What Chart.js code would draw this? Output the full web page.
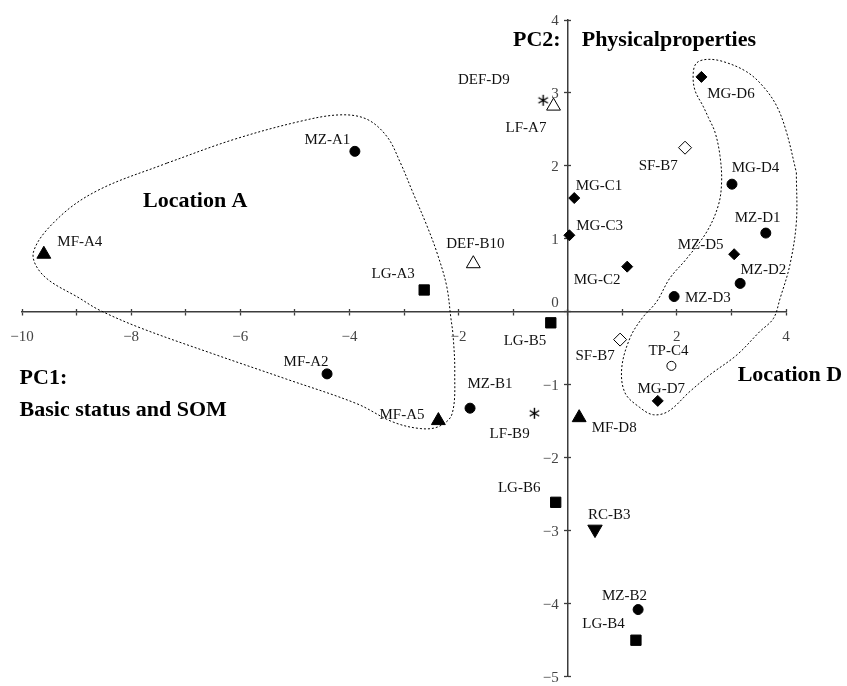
<!DOCTYPE html>
<html>
<head>
<meta charset="utf-8">
<script src="https://cdn.jsdelivr.net/npm/chart.js@4/dist/chart.umd.min.js"></script>
<style>
  html, body { margin: 0; padding: 0; background: #ffffff; }
  canvas { display: block; }
</style>
</head>
<body>
<canvas id="pca" width="847" height="686"></canvas>
<script>
// PCA score plot: PC1 (basic status and SOM) vs PC2 (physical properties)
const sampleNames = [
  'MZ-A1', 'MF-A4', 'LG-A3', 'DEF-B10', 'MF-A2', 'MF-A5', 'MZ-B1', 'LF-B9',
  'LG-B5', 'DEF-D9', 'LF-A7', 'SF-B7', 'MG-C1', 'MG-C3', 'MG-C2', 'MG-D4',
  'MZ-D1', 'MZ-D5', 'MZ-D2', 'MZ-D3', 'MG-D6', 'SF-B7', 'TP-C4', 'MG-D7',
  'MF-D8', 'LG-B6', 'RC-B3', 'MZ-B2', 'LG-B4'
];
const pc1Scores = [
  -3.90, -9.60, -2.63, -1.73, -4.41, -2.37, -1.79, -0.61,
  -0.31, -0.45, -0.26, 2.15, 0.12, 0.03, 1.09, 3.01,
  3.63, 3.05, 3.16, 1.95, 2.45, 0.96, 1.90, 1.65,
  0.21, -0.22, 0.50, 1.29, 1.25
];
const pc2Scores = [
  2.20, 0.79, 0.30, 0.66, -0.85, -1.49, -1.32, -1.39,
  -0.15, 2.90, 2.82, 2.25, 1.56, 1.05, 0.62, 1.75,
  1.08, 0.79, 0.39, 0.21, 3.22, -0.38, -0.74, -1.22,
  -1.45, -2.61, -2.98, -4.08, -4.50
];
// marker kind of each sample (land-use type)
const sampleGroups = [
  'dot', 'tri', 'square', 'triOpen', 'dot', 'tri', 'dot', 'asterisk',
  'square', 'asterisk', 'triOpen', 'diamondOpen', 'diamond', 'diamond', 'diamond', 'dot',
  'dot', 'diamond', 'dot', 'dot', 'diamond', 'diamondOpen', 'ring', 'diamond',
  'tri', 'square', 'triDown', 'dot', 'square'
];

// closed outlines around the Location A and Location D samples
// (each list starts on a straight stretch so the seam stays smooth)
const locationAX = [-7.34, -6.13, -4.91, -4.17, -3.68, -3.31, -3.07, -2.84, -2.58, -2.40, -2.22,
  -2.14, -2.10, -2.07, -2.12, -2.36, -2.69, -3.20, -3.86, -5.16, -6.48, -7.83, -8.57, -8.93, -9.61,
  -9.79, -9.30, -8.57];
const locationAY = [2.04, 2.36, 2.61, 2.70, 2.64, 2.40, 2.05, 1.64, 1.18, 0.82, 0.36,
  -0.09, -0.33, -0.82, -1.40, -1.57, -1.60, -1.51, -1.26, -0.92, -0.58, -0.22, 0.02, 0.18, 0.50,
  0.82, 1.31, 1.68];
const locationDX = [4.19, 4.19, 4.07, 3.89, 3.77, 3.52, 3.10, 2.61, 2.24, 1.85,
  1.57, 1.32, 1.05, 0.99, 1.14, 1.36, 1.63, 1.87, 2.18, 2.55, 2.76, 2.82, 2.79, 2.70, 2.58, 2.48, 2.33, 2.30, 2.36,
  2.55, 2.85, 3.28, 3.58, 3.83, 4.01];
const locationDY = [1.91, 1.23, 0.64, 0.18, -0.09, -0.27, -0.59, -0.86, -1.09, -1.36,
  -1.41, -1.31, -1.11, -0.77, -0.36, -0.09, 0.14, 0.46, 0.73, 1.10, 1.46, 1.78, 2.14, 2.46, 2.66, 2.82, 3.04, 3.27, 3.41,
  3.46, 3.43, 3.29, 3.09, 2.82, 2.46];

// axis ranges and labelled ticks
const xRange = [-10, 4];
const yRange = [-5, 4];
const xLabelledTicks = [-10, -8, -6, -4, -2, 2, 4];
const yLabelledTicks = [-5, -4, -3, -2, -1, 0, 1, 2, 3, 4];

// where each sample name sits relative to its marker (px)
const labelOffsets = [
  [-27.5, -12.7], [36, -13.6], [-31, -16.7], [2, -21], [-21, -13], [-36.4, -6.6], [20, -25.4], [-24.8, 19.6],
  [-25.9, 17.4], [-59.3, -21], [-27.5, 20.4], [-26.8, 17.7], [24.7, -13.3], [30.2, -10.7], [-30.1, 12.4], [23.5, -17.3],
  [-8.2, -15.7], [-33.5, -10.7], [23.2, -14], [33.8, 0], [29.5, 15.8], [-25, 15.6], [-3, -16], [3.5, -12.7],
  [35, 9.3], [-36.5, -15], [14.2, -15.3], [-13.6, -15], [-32.4, -17.3]
];

const SERIF = '"Liberation Serif", "Times New Roman", serif';
const fmt = v => (v < 0 ? '\u2212' + Math.abs(v) : String(v));

function asteriskSprite(size) {
  const c = document.createElement('canvas');
  c.width = size; c.height = size;
  const g = c.getContext('2d');
  g.strokeStyle = '#000';
  g.lineWidth = 1.4;
  const m = size / 2, r = size / 2 - 1;
  g.beginPath();
  for (let k = 0; k < 3; k++) {
    const a = Math.PI / 2 + k * Math.PI / 3;
    g.moveTo(m + r * Math.cos(a), m + r * Math.sin(a));
    g.lineTo(m - r * Math.cos(a), m - r * Math.sin(a));
  }
  g.stroke();
  return c;
}

const markerKinds = {
  dot:         { style: 'circle',   radius: 5,   fill: '#000' },
  tri:         { style: 'triangle', radius: 8,   fill: '#000' },
  square:      { style: 'rect',     radius: 7.3, fill: '#000' },
  triOpen:     { style: 'triangle', radius: 8,   fill: '#fff' },
  asterisk:    { style: asteriskSprite(13), radius: 6, fill: '#000' },
  diamond:     { style: 'rectRot',  radius: 5.5, fill: '#000' },
  diamondOpen: { style: 'rectRot',  radius: 6.5, fill: '#fff' },
  ring:        { style: 'circle',   radius: 4.5, fill: '#fff' },
  triDown:     { style: 'triangle', radius: 8.3, fill: '#000', rotation: 180 }
};

const datasets = [];

function outline(xs, ys) {
  const pts = xs.map((v, i) => ({ x: v, y: ys[i] }));
  pts.push({ x: xs[0], y: ys[0] });
  return {
    data: pts,
    showLine: true,
    borderColor: '#000',
    borderWidth: 1,
    borderDash: [2, 2],
    pointRadius: 0,
    tension: 0.35,
    fill: false,
    clip: false
  };
}
datasets.push(outline(locationAX, locationAY));
datasets.push(outline(locationDX, locationDY));

Object.keys(markerKinds).forEach(kind => {
  const m = markerKinds[kind];
  const pts = [];
  sampleNames.forEach((n, i) => {
    if (sampleGroups[i] === kind) pts.push({ x: pc1Scores[i], y: pc2Scores[i] });
  });
  datasets.push({
    label: kind,
    data: pts,
    showLine: false,
    pointStyle: m.style,
    pointRadius: m.radius,
    pointHoverRadius: m.radius,
    pointRotation: m.rotation || 0,
    pointBackgroundColor: m.fill,
    pointBorderColor: '#000',
    pointBorderWidth: 1,
    clip: false
  });
});

// axes sit on the origin and take no room from the plot area
function noRoom(scale) {
  scale.width = scale.isHorizontal() ? scale.width : 0;
  scale.height = scale.isHorizontal() ? 0 : scale.height;
  scale.paddingTop = 0; scale.paddingBottom = 0;
  scale.paddingLeft = 0; scale.paddingRight = 0;
}

const axisColor = '#3c3c3c';
const tickColor = '#444';
const tickFont = { family: SERIF, size: 15 };

const annotate = {
  id: 'annotate',
  afterDatasetsDraw(chart) {
    const { ctx } = chart;
    const xs = chart.scales.x, ys = chart.scales.y;
    const x0 = xs.getPixelForValue(0);
    ctx.save();
    ctx.textBaseline = 'alphabetic';
    ctx.font = '15px ' + SERIF;

    // vertical axis tick labels, left of the axis
    ctx.fillStyle = tickColor;
    ctx.textAlign = 'right';
    yLabelledTicks.forEach(v => {
      const py = ys.getPixelForValue(v) + (v === 0 ? -10 : 0);
      ctx.fillText(fmt(v), x0 - 9, py + 5);
    });

    // sample names
    ctx.fillStyle = '#111';
    ctx.textAlign = 'center';
    sampleNames.forEach((name, i) => {
      const px = xs.getPixelForValue(pc1Scores[i]);
      const py = ys.getPixelForValue(pc2Scores[i]);
      ctx.fillText(name, px + labelOffsets[i][0], py + labelOffsets[i][1] + 5);
    });

    ctx.fillStyle = '#000';
    ctx.font = 'bold 22px ' + SERIF;
    ctx.textAlign = 'left';
    const titles = [
      ['PC2:', 513, 38.3],
      ['Physicalproperties', 581.7, 38.3],
      ['Location A', 143, 199.3],
      ['Location D', 737.7, 373.3],
      ['PC1:', 19.6, 377],
      ['Basic status and SOM', 19.6, 409]
    ];
    titles.forEach(([t, x, y]) => ctx.fillText(t, x, y + 7.3));
    ctx.restore();
  }
};

new Chart(document.getElementById('pca'), {
  type: 'scatter',
  data: { datasets },
  plugins: [annotate],
  options: {
    responsive: false,
    animation: false,
    events: [],
    layout: { padding: { left: 22, right: 61, top: 20, bottom: 5.5 } },
    plugins: { legend: { display: false }, tooltip: { enabled: false } },
    scales: {
      x: {
        type: 'linear',
        position: { y: 0 },
        min: xRange[0], max: xRange[1],
        afterFit: noRoom,
        border: { display: true, color: axisColor, width: 1.5 },
        grid: { drawOnChartArea: false, drawTicks: true, tickLength: 3, color: axisColor, tickWidth: 1.3 },
        ticks: {
          stepSize: 1, autoSkip: false, maxRotation: 0, padding: 13,
          color: tickColor, font: tickFont,
          callback: v => (xLabelledTicks.includes(v) ? fmt(v) : '')
        }
      },
      x2: {
        type: 'linear', axis: 'x',
        position: { y: 0 },
        min: xRange[0], max: xRange[1],
        afterFit: noRoom,
        border: { display: false },
        grid: { drawOnChartArea: false, drawTicks: true, tickLength: -3, color: axisColor, tickWidth: 1.3 },
        ticks: { stepSize: 1, display: false, autoSkip: false }
      },
      y: {
        type: 'linear',
        position: { x: 0 },
        min: yRange[0], max: yRange[1],
        afterFit: noRoom,
        border: { display: true, color: axisColor, width: 1.5 },
        grid: { drawOnChartArea: false, drawTicks: true, tickLength: 3, color: axisColor, tickWidth: 1.3 },
        ticks: { stepSize: 1, autoSkip: false, display: false }
      },
      y2: {
        type: 'linear', axis: 'y',
        position: { x: 0 },
        min: yRange[0], max: yRange[1],
        afterFit: noRoom,
        border: { display: false },
        grid: { drawOnChartArea: false, drawTicks: true, tickLength: -3, color: axisColor, tickWidth: 1.3 },
        ticks: { stepSize: 1, display: false, autoSkip: false }
      }
    }
  }
});
</script>
</body>
</html>
